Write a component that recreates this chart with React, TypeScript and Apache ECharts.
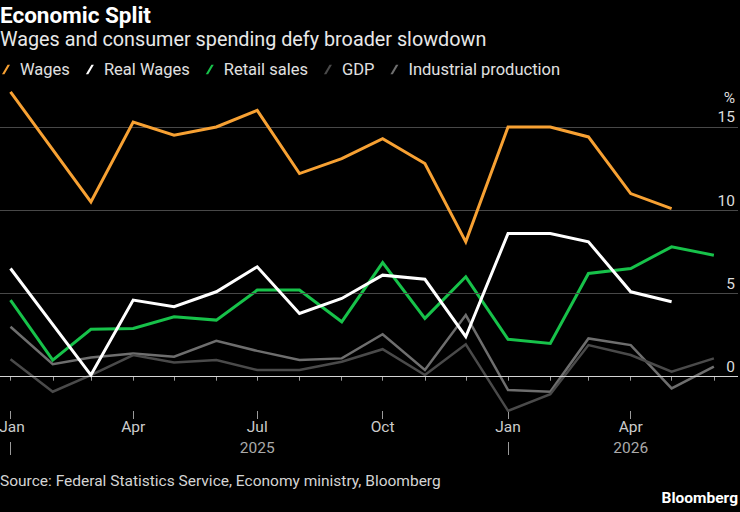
import React, { useEffect, useRef } from "react";
import * as echarts from "echarts";

const months = [
  "2025-01", "2025-02", "2025-03", "2025-04", "2025-05", "2025-06",
  "2025-07", "2025-08", "2025-09", "2025-10", "2025-11", "2025-12",
  "2026-01", "2026-02", "2026-03", "2026-04", "2026-05", "2026-06",
];
const wages = [17.1, null, 10.5, 15.3, 14.5, 15.0, 16.0, 12.2, 13.1, 14.3, 12.8, 8.1, 15.0, 15.0, 14.4, 11.0, 10.1, null];
const realWages = [6.5, null, 0.1, 4.6, 4.2, 5.1, 6.6, 3.8, 4.7, 6.1, 5.85, 2.4, 8.6, 8.6, 8.1, 5.1, 4.5, null];
const retailSales = [4.6, 1.0, 2.85, 2.9, 3.6, 3.4, 5.2, 5.2, 3.3, 6.85, 3.5, 6.0, 2.25, 2.0, 6.2, 6.5, 7.8, 7.3];
const gdp = [1.05, -0.9, 0.1, 1.3, 0.85, 1.0, 0.4, 0.4, 0.9, 1.65, 0.1, 1.95, -2.05, -1.05, 1.9, 1.3, 0.3, 1.1];
const industrial = [3.0, 0.75, 1.15, 1.4, 1.2, 2.15, 1.55, 1.0, 1.1, 2.55, 0.4, 3.7, -0.8, -0.9, 2.3, 1.9, -0.7, 0.6];

const yTicks = [0, 5, 10, 15];
const quarterMonths = ["2025-01", "2025-04", "2025-07", "2025-10", "2026-01", "2026-04"];
const monthNames = ["Jan", "Feb", "Mar", "Apr", "May", "Jun", "Jul", "Aug", "Sep", "Oct", "Nov", "Dec"];
const yearLabelMonths = ["2025-07", "2026-04"];
const yearBreakMonths = ["2025-01", "2026-01"];

const FONT = "Roboto, 'DejaVu Sans', sans-serif";
const DAY = 86400000;

const ts = (m: string) => Date.UTC(+m.slice(0, 4), +m.slice(5, 7) - 1, 1);
const toSeries = (arr: (number | null)[]) => months.map((m, i) => [ts(m), arr[i]]);

const X_MIN = ts("2025-01") - 7.7 * DAY;
const X_MAX = ts("2025-01") + 533.7 * DAY;

const ICON = "path://M0,10 L6,0 L8.6,0 L2.6,10 Z";

export default function App() {
  const ref = useRef<HTMLDivElement>(null);

  useEffect(() => {
    document.body.style.background = "#000";
    const chart = echarts.init(ref.current!, undefined, { renderer: "svg" });

    const baseX = {
      type: "value",
      min: X_MIN,
      max: X_MAX,
      position: "bottom",
      axisLine: { show: false },
      splitLine: { show: false },
    };

    const mkLine = (name: string, data: (number | null)[], color: string, width: number, z: number) => ({
      name,
      type: "line",
      data: toSeries(data),
      connectNulls: true,
      showSymbol: false,
      symbol: "none",
      z,
      lineStyle: { color, width, join: "miter" },
      itemStyle: { color },
      emphasis: { disabled: true },
    });

    const firstQuarter = ts(quarterMonths[0]);

    chart.setOption({
      animation: false,
      backgroundColor: "#000",
      textStyle: { fontFamily: FONT },
      title: {
        text: "Economic Split",
        subtext: "Wages and consumer spending defy broader slowdown",
        left: 0,
        top: 3,
        padding: 0,
        itemGap: 3,
        textStyle: { color: "#ffffff", fontSize: 22.5, fontWeight: "bold", fontFamily: FONT },
        subtextStyle: { color: "#e8e8e8", fontSize: 19.8, fontFamily: FONT },
      },
      legend: {
        left: 2,
        top: 61,
        padding: 0,
        icon: ICON,
        itemWidth: 8,
        itemHeight: 10,
        itemGap: 16,
        itemStyle: { borderWidth: 0 },
        textStyle: { color: "#e0e0e0", fontSize: 16.5, fontFamily: FONT, padding: [0, 0, 0, 5] },
        data: ["Wages", "Real Wages", "Retail sales", "GDP", "Industrial production"],
      },
      grid: { left: 0, right: 2, top: 77, bottom: 101, containLabel: false, outerBoundsMode: "none" },
      xAxis: [
        {
          ...baseX,
          axisTick: { show: true, length: 4, lineStyle: { color: "#9a9a9a" }, customValues: months.map(ts) },
          axisLabel: { show: false },
        },
        {
          ...baseX,
          axisTick: { show: true, length: 8, lineStyle: { color: "#9a9a9a" }, customValues: quarterMonths.map(ts) },
          axisLabel: {
            show: true,
            customValues: quarterMonths.map(ts),
            formatter: (v: number) => {
              const name = monthNames[new Date(v).getUTCMonth()];
              return v === firstQuarter ? "{first|" + name + "}" : name;
            },
            rich: { first: { padding: [0, 0, 0, 3], fontSize: 15.5, color: "#cccccc" } },
            color: "#cccccc",
            fontSize: 15.5,
            margin: 8,
            fontFamily: FONT,
          },
        },
        {
          ...baseX,
          offset: 31,
          axisTick: { show: true, length: 13, lineStyle: { color: "#9a9a9a" }, customValues: yearBreakMonths.map(ts) },
          axisLabel: {
            show: true,
            customValues: yearLabelMonths.map(ts),
            formatter: (v: number) => String(new Date(v).getUTCFullYear()),
            color: "#aaaaaa",
            fontSize: 15.5,
            margin: 6,
            verticalAlign: "middle",
            fontFamily: FONT,
          },
        },
      ],
      yAxis: {
        type: "value",
        position: "right",
        min: -2.06,
        max: 18,
        axisLine: { show: false },
        axisTick: { show: false },
        splitLine: { show: false },
        axisLabel: {
          show: true,
          inside: true,
          customValues: yTicks,
          margin: 3,
          align: "right",
          verticalAlign: "bottom",
          color: "#dddddd",
          fontSize: 15.5,
          lineHeight: 19,
          fontFamily: FONT,
          formatter: (v: number) => (v === yTicks[yTicks.length - 1] ? "%\n" + v : String(v)),
        },
      },
      series: [
        {
          name: "grid",
          type: "line",
          data: toSeries(retailSales),
          symbol: "none",
          silent: true,
          z: 1,
          lineStyle: { opacity: 0 },
          markLine: {
            silent: true,
            symbol: "none",
            label: { show: false },
            animation: false,
            data: yTicks.map((v) => ({
              yAxis: v,
              lineStyle: { color: v === 0 ? "#d4d4d4" : "#484848", width: 1, type: "solid" },
            })),
          },
        },
        mkLine("Industrial production", industrial, "#6e6e6e", 2.5, 2),
        mkLine("GDP", gdp, "#4a4a4a", 2.5, 3),
        mkLine("Retail sales", retailSales, "#17c24a", 3, 4),
        mkLine("Real Wages", realWages, "#ffffff", 3, 5),
        mkLine("Wages", wages, "#f7a133", 3, 6),
      ],
      graphic: [
        {
          type: "text",
          left: 0,
          top: 473,
          style: {
            text: "Source: Federal Statistics Service, Economy ministry, Bloomberg",
            fill: "#d4d4d4",
            font: `15.5px ${FONT}`,
          },
        },
        {
          type: "text",
          right: 2,
          top: 490,
          style: { text: "Bloomberg", fill: "#ffffff", font: `bold 15.5px ${FONT}` },
        },
      ],
    });

    return () => chart.dispose();
  }, []);

  return <div ref={ref} style={{ position: "fixed", left: 0, top: 0, width: 740, height: 512, background: "#000" }} />;
}
